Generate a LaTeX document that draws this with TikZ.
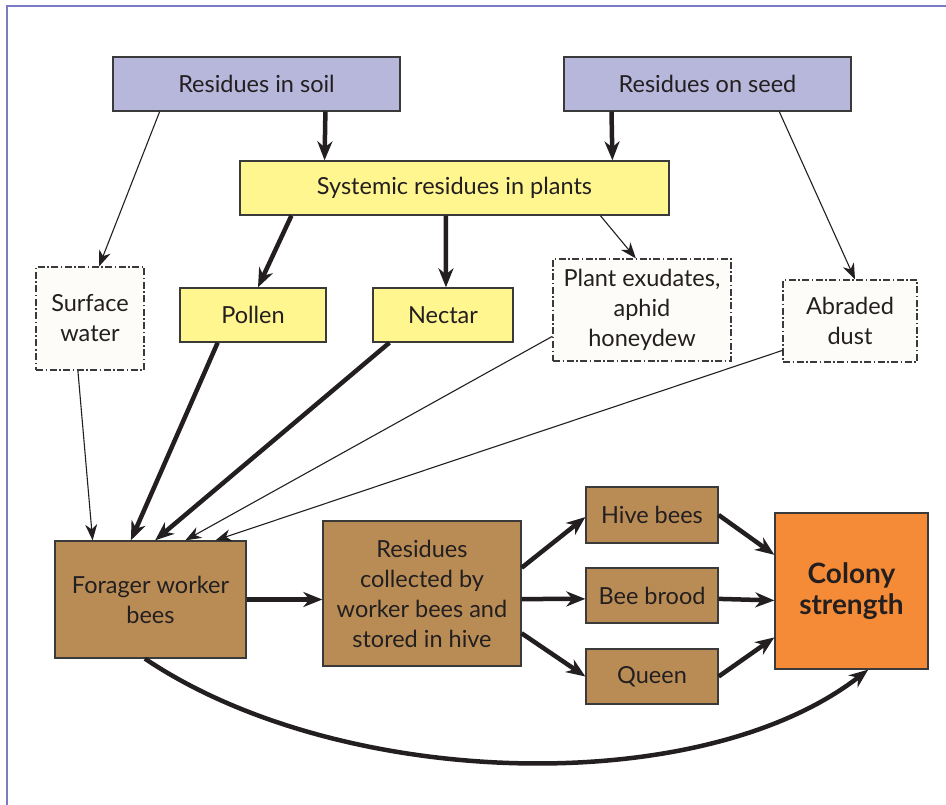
\documentclass[tikz,border=0pt]{standalone}
\usepackage{fontspec}
\setmainfont{Lato}
\usetikzlibrary{arrows.meta,calc,shadows}
\definecolor{frameblue}{HTML}{7A7AC6}
\definecolor{lav}{HTML}{B7B7DC}
\definecolor{yel}{HTML}{FFF68F}
\definecolor{cream}{HTML}{FDFCF8}
\definecolor{brown}{HTML}{B98C55}
\definecolor{orng}{HTML}{F58B36}
\definecolor{ink}{HTML}{231F20}
\definecolor{edge}{HTML}{3A3A3A}
\tikzset{
  box/.style={draw=edge, line width=1.3pt, text=ink, align=center, inner sep=0pt,
    font=\fontsize{23.5}{30}\selectfont,
    drop shadow={shadow xshift=1.2pt, shadow yshift=-1.2pt, fill=black!35, opacity=1}},
  dbox/.style={draw=edge, line width=1.1pt, fill=cream, text=ink, align=center, inner sep=0pt,
    font=\fontsize{23.5}{30}\selectfont,
    dash pattern=on 7pt off 2.5pt on 1.5pt off 2.5pt},
  thickarrow/.style={draw=ink, line width=4.5pt, -{Stealth[length=19pt,width=15pt,inset=6pt]}},
  thinarrow/.style={draw=ink, line width=1.1pt, -{Stealth[length=16pt,width=12pt,inset=5pt]}},
}
\begin{document}
\begin{tikzpicture}[x=1pt,y=-1pt]
\useasboundingbox (0,0) rectangle (946,805);
\fill[white] (0,0) rectangle (946,805);
\draw[frameblue, line width=2pt] (6.5,805) -- (6.5,6.5) -- (946,6.5);

% nodes
\node[box, fill=lav, minimum width=287pt, minimum height=54pt] (soil) at (256.5,84) {Residues in soil};
\node[box, fill=lav, minimum width=287pt, minimum height=54pt] (seed) at (707.5,84) {Residues on seed};
\node[box, fill=yel, minimum width=429pt, minimum height=54pt] (sys) at (454.5,188) {Systemic residues in plants};
\node[dbox, minimum width=108pt, minimum height=103pt] (surf) at (90,318.5) {Surface\\water};
\node[box, fill=yel, minimum width=146pt, minimum height=54pt] (pollen) at (253,315) {Pollen};
\node[box, fill=yel, minimum width=140pt, minimum height=54pt] (nectar) at (443,315) {Nectar};
\node[dbox, minimum width=178pt, minimum height=102pt] (plant) at (642,310) {Plant exudates,\\aphid\\honeydew};
\node[dbox, minimum width=134pt, minimum height=82pt] (dust) at (850,321) {Abraded\\dust};
\node[box, fill=brown, minimum width=191pt, minimum height=117pt] (forager) at (150.5,599.5) {Forager worker\\bees};
\node[box, fill=brown, minimum width=198pt, minimum height=145pt] (resid) at (422,593.5) {Residues\\collected by\\worker bees and\\stored in hive};
\node[box, fill=brown, minimum width=132pt, minimum height=56pt] (hive) at (652,515) {Hive bees};
\node[box, fill=brown, minimum width=132pt, minimum height=55pt] (brood) at (652,595.5) {Bee brood};
\node[box, fill=brown, minimum width=132pt, minimum height=55pt] (queen) at (652,676.5) {Queen};
\node[box, fill=orng, minimum width=153pt, minimum height=156pt, font=\fontsize{28}{31}\selectfont\bfseries] (colony) at (851.5,591) {Colony\\strength};

% connectors
\draw[thickarrow] ($(soil.south west)!0.739!(soil.south east)$) -- ($(sys.north west)!0.198!(sys.north east)$);
\draw[thickarrow] ($(seed.south west)!0.167!(seed.south east)$) -- ($(sys.north west)!0.867!(sys.north east)$);
\draw[thinarrow] ($(soil.south west)!0.164!(soil.south east)$) -- ($(surf.north west)!0.583!(surf.north east)$);
\draw[thinarrow] ($(seed.south west)!0.749!(seed.south east)$) -- ($(dust.north west)!0.537!(dust.north east)$);
\draw[thickarrow] ($(sys.south west)!0.121!(sys.south east)$) -- ($(pollen.north west)!0.534!(pollen.north east)$);
\draw[thickarrow] ($(sys.south west)!0.480!(sys.south east)$) -- ($(nectar.north west)!0.521!(nectar.north east)$);
\draw[thinarrow] ($(sys.south west)!0.839!(sys.south east)$) -- ($(plant.north west)!0.466!(plant.north east)$);

\draw[thinarrow] ($(surf.south west)!0.389!(surf.south east)$) -- ($(forager.north west)!0.199!(forager.north east)$);
\draw[thickarrow] ($(pollen.south west)!0.26!(pollen.south east)$) -- ($(forager.north west)!0.398!(forager.north east)$);
\draw[thickarrow] ($(nectar.south west)!0.121!(nectar.south east)$) -- ($(forager.north west)!0.524!(forager.north east)$);
\draw[thinarrow] ($(plant.north west)!0.755!(plant.south west)$) -- ($(forager.north west)!0.681!(forager.north east)$);
\draw[thinarrow] ($(dust.north west)!0.854!(dust.south west)$) -- ($(forager.north west)!0.838!(forager.north east)$);

\draw[thickarrow] (forager.east) -- (forager.east -| resid.west);
\draw[thickarrow] ($(resid.north east)!0.324!(resid.south east)$) -- ($(hive.north west)!0.536!(hive.south west)$);
\draw[thickarrow] ($(resid.north east)!0.538!(resid.south east)$) -- ($(brood.north west)!0.56!(brood.south west)$);
\draw[thickarrow] ($(resid.north east)!0.772!(resid.south east)$) -- (queen.west);
\draw[thickarrow] (hive.east) -- ($(colony.north west)!0.27!(colony.south west)$);
\draw[thickarrow] ($(brood.north east)!0.56!(brood.south east)$) -- ($(colony.north west)!0.56!(colony.south west)$);
\draw[thickarrow] (queen.east) -- ($(colony.north west)!0.795!(colony.south west)$);
\draw[thickarrow] ($(forager.south west)!0.471!(forager.south east)$) .. controls (340,790) and (700,800) .. ($(colony.south west)!0.608!(colony.south east)$);
\end{tikzpicture}
\end{document}
